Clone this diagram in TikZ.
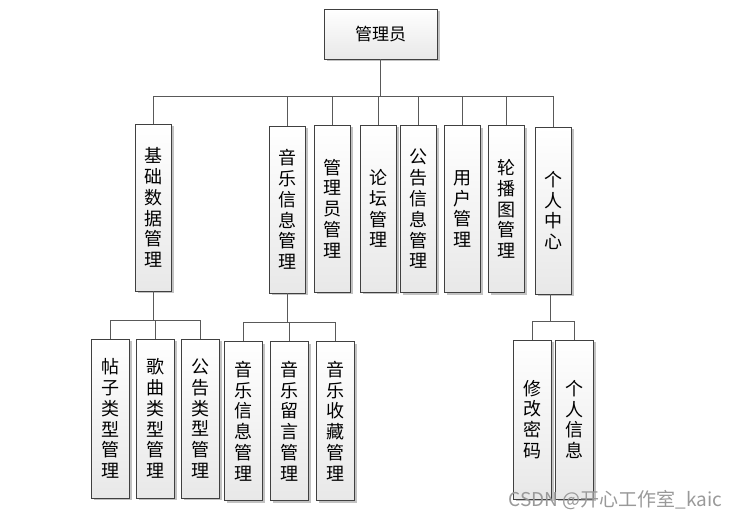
\documentclass[tikz,border=0pt]{standalone}
\usepackage{fontspec}
\setmainfont{Noto Sans CJK SC}
\usetikzlibrary{shadows}

\tikzset{
  box/.style={draw=black!75, line width=0.9pt, top color=white, bottom color=black!9,
    inner sep=0pt, align=center, font=\fontsize{18}{20.8}\selectfont,
    drop shadow={shadow xshift=2.5pt, shadow yshift=-2.5pt, fill=black!40, opacity=.6}},
  modbox/.style={box, minimum width=36pt, minimum height=167pt},
  subbox/.style={box, minimum width=38pt, minimum height=159pt},
  link/.style={draw=black!65, line width=0.8pt}
}

\begin{document}
\begin{tikzpicture}[x=1pt,y=-1pt]
  \useasboundingbox (0,0) rectangle (740,518);
  % top
  \node[box, minimum width=113pt, minimum height=50pt, font=\fontsize{17}{17}\selectfont] (admin) at (380.5,34) {管理员};
  % modules
  \node[modbox] (basic) at (153,207.5) {基\\础\\数\\据\\管\\理};
  \node[modbox] (music) at (287,209.5) {音\\乐\\信\\息\\管\\理};
  \node[modbox] (admins) at (332,208.5) {管\\理\\员\\管\\理};
  \node[modbox] (forum) at (378,208.5) {论\\坛\\管\\理};
  \node[modbox] (notice) at (418,209) {公\\告\\信\\息\\管\\理};
  \node[modbox] (user) at (462.5,209) {用\\户\\管\\理};
  \node[modbox] (banner) at (506,209) {轮\\播\\图\\管\\理};
  \node[modbox] (center) at (553,210.5) {个\\人\\中\\心};
  % sub modules
  \node[subbox] (posttype) at (110,418.5) {帖\\子\\类\\型\\管\\理};
  \node[subbox] (songtype) at (155,418.5) {歌\\曲\\类\\型\\管\\理};
  \node[subbox] (noticetype) at (200.5,418.5) {公\\告\\类\\型\\管\\理};
  \node[subbox] (musicinfo) at (243.5,421) {音\\乐\\信\\息\\管\\理};
  \node[subbox] (musicmsg) at (289.5,421) {音\\乐\\留\\言\\管\\理};
  \node[subbox] (musicfav) at (335,421) {音\\乐\\收\\藏\\管\\理};
  \node[subbox] (passwd) at (532.5,419.5) {修\\改\\密\\码};
  \node[subbox] (profile) at (574.5,419.5) {个\\人\\信\\息};
  % buses
  \coordinate (bus0) at (380.5,96);
  \coordinate (bus1) at (153,320);
  \coordinate (bus2) at (287,322);
  \coordinate (bus3) at (550,321);
  \draw[link] (admin.south) -- (bus0);
  \foreach \n in {basic,music,admins,forum,notice,user,banner,center}
    \draw[link] (\n.north) |- (bus0);
  \draw[link] (basic.south) -- (bus1);
  \foreach \n in {posttype,songtype,noticetype}
    \draw[link] (\n.north) |- (bus1);
  \draw[link] (music.south) -- (bus2);
  \foreach \n in {musicinfo,musicmsg,musicfav}
    \draw[link] (\n.north) |- (bus2);
  \draw[link] (center.south -| bus3) -- (bus3);
  \foreach \n in {passwd,profile}
    \draw[link] (\n.north) |- (bus3);
  % watermark
  \node[anchor=west, text=black!40, font=\fontsize{19}{19}\selectfont] (mark) at (505,500) {CSDN @开心工作室\_kaic};
\end{tikzpicture}
\end{document}
